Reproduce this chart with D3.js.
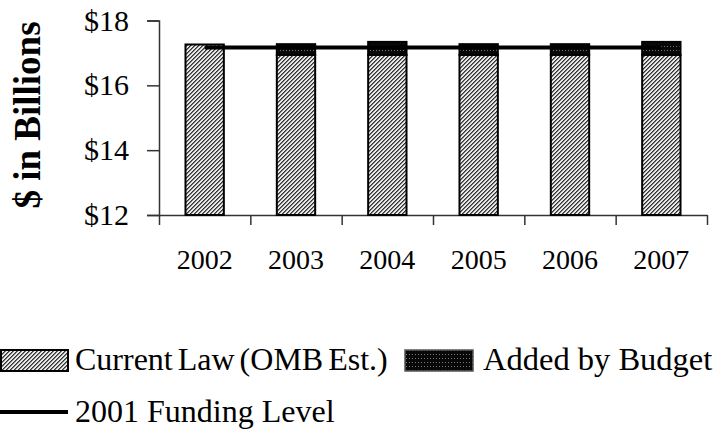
<!DOCTYPE html>
<html>
<head>
<meta charset="utf-8">
<script src="https://cdn.jsdelivr.net/npm/d3@7"></script>
<style>
  body { margin: 0; background: #fff; }
  svg { display: block; }
  text { font-family: "Liberation Serif", "Times New Roman", serif; fill: #000; }
</style>
</head>
<body>
<div id="chart"></div>
<script>
// data
const years = ["2002", "2003", "2004", "2005", "2006", "2007"];
const currentLaw = [17.26, 16.94, 16.94, 16.94, 16.94, 16.94];
const addedByBudget = [0, 0.33, 0.40, 0.33, 0.33, 0.40];
const fundingLevel2001 = 17.17;
const yTicks = [12, 14, 16, 18];

const width = 721, height = 429;
const plotLeft = 159, plotRight = 707, plotTop = 20.5, plotBottom = 215;

const svg = d3.select("#chart").append("svg")
    .attr("width", width)
    .attr("height", height);

// patterns
const defs = svg.append("defs");
const light = defs.append("pattern")
    .attr("id", "lightHatch")
    .attr("width", 4).attr("height", 4)
    .attr("patternUnits", "userSpaceOnUse");
light.append("rect").attr("width", 4).attr("height", 4).attr("fill", "#e8e8e8");
// "/" diagonal hatch
d3.range(4).forEach(i => {
    light.append("rect").attr("x", 3 - i).attr("y", i)
        .attr("width", 1).attr("height", 1).attr("fill", "#333");
    light.append("rect").attr("x", (4 - i) % 4).attr("y", i)
        .attr("width", 1).attr("height", 1).attr("fill", "#777");
});
const dark = defs.append("pattern")
    .attr("id", "darkHatch")
    .attr("width", 3).attr("height", 4)
    .attr("patternUnits", "userSpaceOnUse");
dark.append("rect").attr("width", 3).attr("height", 4).attr("fill", "#080808");
dark.append("rect").attr("x", 1).attr("y", 2).attr("width", 1).attr("height", 1).attr("fill", "#777");

const x = d3.scaleBand().domain(years).range([plotLeft, plotRight]).padding(0);
const y = d3.scaleLinear().domain([12, 18]).range([plotBottom, plotTop]);
const barW = x.bandwidth() * 0.42;

// y axis
const yAxis = svg.append("g")
    .attr("transform", `translate(${plotLeft},0)`)
    .call(d3.axisLeft(y).tickValues(yTicks).tickSize(12).tickPadding(18).tickFormat(d => "$" + d));
yAxis.select(".domain").attr("stroke", "#333").attr("stroke-width", 1.5);
yAxis.selectAll(".tick line").attr("stroke", "#333").attr("stroke-width", 1.5);
yAxis.selectAll(".tick text")
    .attr("font-size", 30)
    .attr("font-family", "Liberation Serif, Times New Roman, serif")
    .attr("fill", "#000");

// x axis: ticks between categories
const xIdx = d3.scaleLinear().domain([0, years.length]).range([plotLeft, plotRight]);
const xAxis = svg.append("g")
    .attr("transform", `translate(0,${plotBottom})`)
    .call(d3.axisBottom(xIdx).tickValues(d3.range(years.length + 1)).tickSize(10).tickSizeOuter(0).tickFormat(""));
xAxis.select(".domain").attr("stroke", "#333").attr("stroke-width", 1.5);
xAxis.selectAll(".tick line").attr("stroke", "#333").attr("stroke-width", 1.5);

svg.append("g").selectAll("text")
    .data(years)
    .enter().append("text")
    .attr("x", d => x(d) + x.bandwidth() / 2)
    .attr("y", 269)
    .attr("text-anchor", "middle")
    .attr("font-size", 28)
    .text(d => d);

// bars
const bars = svg.append("g").attr("stroke", "#000").attr("stroke-width", 2);
bars.selectAll("rect.cur")
    .data(years)
    .enter().append("rect")
    .attr("class", "cur")
    .attr("x", d => x(d) + (x.bandwidth() - barW) / 2)
    .attr("width", barW)
    .attr("y", (d, i) => y(currentLaw[i]))
    .attr("height", (d, i) => y(12) - y(currentLaw[i]))
    .attr("fill", "url(#lightHatch)");
bars.selectAll("rect.add")
    .data(years.filter((d, i) => addedByBudget[i] > 0))
    .enter().append("rect")
    .attr("class", "add")
    .attr("x", d => x(d) + (x.bandwidth() - barW) / 2)
    .attr("width", barW)
    .attr("y", d => { const i = years.indexOf(d); return y(currentLaw[i] + addedByBudget[i]); })
    .attr("height", d => { const i = years.indexOf(d); return y(currentLaw[i]) - y(currentLaw[i] + addedByBudget[i]); })
    .attr("fill", "url(#darkHatch)");

// 2001 funding level line
const line = d3.line()
    .x(d => x(d) + x.bandwidth() / 2)
    .y(() => y(fundingLevel2001));
svg.append("path")
    .datum(years)
    .attr("d", line)
    .attr("fill", "none")
    .attr("stroke", "#000")
    .attr("stroke-width", 4);

// y title
svg.append("text")
    .attr("transform", "translate(40,115) rotate(-90)")
    .attr("text-anchor", "middle")
    .attr("font-size", 37)
    .attr("font-weight", "bold")
    .text("$ in Billions");

// legend
const legend = svg.append("g");
legend.append("rect")
    .attr("x", 1).attr("y", 350).attr("width", 67).attr("height", 21)
    .attr("fill", "url(#lightHatch)").attr("stroke", "#000").attr("stroke-width", 2);
legend.append("text").attr("x", 75).attr("y", 370).attr("font-size", 32)
    .attr("word-spacing", -3)
    .text("Current Law (OMB Est.)");
legend.append("rect")
    .attr("x", 405).attr("y", 350).attr("width", 68).attr("height", 21)
    .attr("fill", "url(#darkHatch)").attr("stroke", "#555").attr("stroke-width", 1.5);
legend.append("text").attr("x", 483).attr("y", 370).attr("font-size", 32.5).text("Added by Budget");
legend.append("line")
    .attr("x1", 0).attr("x2", 68).attr("y1", 412).attr("y2", 412)
    .attr("stroke", "#000").attr("stroke-width", 4);
legend.append("text").attr("x", 75).attr("y", 421.5).attr("font-size", 32).text("2001 Funding Level");
</script>
</body>
</html>
